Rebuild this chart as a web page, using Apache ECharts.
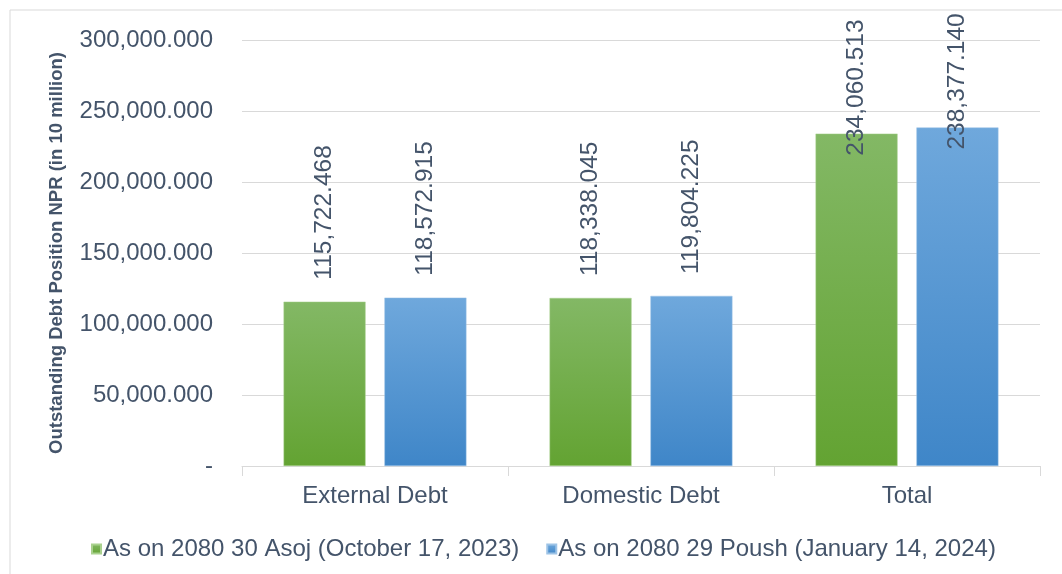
<!DOCTYPE html>
<html>
<head>
<meta charset="utf-8">
<script src="https://cdn.jsdelivr.net/npm/echarts@6/dist/echarts.min.js"></script>
<style>
  html, body { margin: 0; padding: 0; background: #fff; }
  #chart { width: 1062px; height: 574px; }
</style>
</head>
<body>
<div id="chart"></div>
<script>
// 数据区
const categories = ["External Debt", "Domestic Debt", "Total"];
const asojValues = [115722.468, 118338.045, 234060.513];
const poushValues = [118572.915, 119804.225, 238377.14];
const seriesNames = [
  "As on 2080 30 Asoj (October 17, 2023)",
  "As on 2080 29 Poush (January 14, 2024)",
];
const yAxisName = "Outstanding Debt Position NPR (in 10 million)";

const textColor = "#44546A";
const font = "Liberation Sans";

function fmt(v) {
  if (v === 0) return "-";
  return v.toLocaleString("en-US", { minimumFractionDigits: 3, maximumFractionDigits: 3 });
}

function grad(top, bottom) {
  return new echarts.graphic.LinearGradient(0, 0, 0, 1, [
    { offset: 0, color: top },
    { offset: 1, color: bottom },
  ]);
}

// 总计一栏的标签被压进图里
function toData(values) {
  return values.map(function (v, i) {
    if (categories[i] === "Total") {
      return { value: v, label: { distance: -22 } };
    }
    return v;
  });
}

const labelStyle = {
  show: true,
  position: "top",
  rotate: 90,
  align: "left",
  verticalAlign: "middle",
  distance: 22,
  color: textColor,
  fontFamily: font,
  fontSize: 24.5,
  formatter: function (p) { return fmt(p.value); },
};

const chart = echarts.init(document.getElementById("chart"));

const option = {
  backgroundColor: "#ffffff",
  animation: false,
  graphic: [
    {
      type: "rect",
      shape: { x: 10, y: 10, width: 1070, height: 580 },
      style: { fill: "none", stroke: "#D9D9D9", lineWidth: 1 },
      silent: true,
    },
  ],
  legend: {
    bottom: 8,
    left: 86,
    itemWidth: 9,
    itemHeight: 9,
    itemGap: 27,
    icon: "rect",
    textStyle: { color: textColor, fontFamily: font, fontSize: 24, padding: [0, 0, 0, -3] },
    data: seriesNames,
  },
  grid: { left: 242, right: 22, top: 40, bottom: 108 },
  xAxis: {
    type: "category",
    data: categories,
    axisLine: { lineStyle: { color: "#D9D9D9", width: 1 } },
    axisTick: { show: true, length: 10, lineStyle: { color: "#D9D9D9" } },
    axisLabel: { color: textColor, fontFamily: font, fontSize: 24, margin: 18 },
  },
  yAxis: {
    type: "value",
    min: 0,
    max: 300000,
    interval: 50000,
    name: yAxisName,
    nameLocation: "middle",
    nameGap: 176,
    nameTextStyle: { color: textColor, fontFamily: font, fontSize: 18.5, fontWeight: "bold" },
    axisLine: { show: false },
    axisTick: { show: false },
    splitLine: { lineStyle: { color: "#D9D9D9", width: 1 } },
    axisLabel: {
      color: textColor,
      fontFamily: font,
      fontSize: 24,
      margin: 29,
      formatter: fmt,
    },
  },
  series: [
    {
      name: seriesNames[0],
      type: "bar",
      data: toData(asojValues),
      barWidth: 82,
      barGap: "23%",
      itemStyle: { color: grad("#83B865", "#63A332"), borderColor: "#A9D18E", borderWidth: 0.5 },
      label: labelStyle,
    },
    {
      name: seriesNames[1],
      type: "bar",
      data: toData(poushValues),
      barWidth: 82,
      itemStyle: { color: grad("#6FA8DC", "#3F86C8"), borderColor: "#9DC3E6", borderWidth: 0.5 },
      label: labelStyle,
    },
  ],
};

option && chart.setOption(option);
</script>
</body>
</html>
